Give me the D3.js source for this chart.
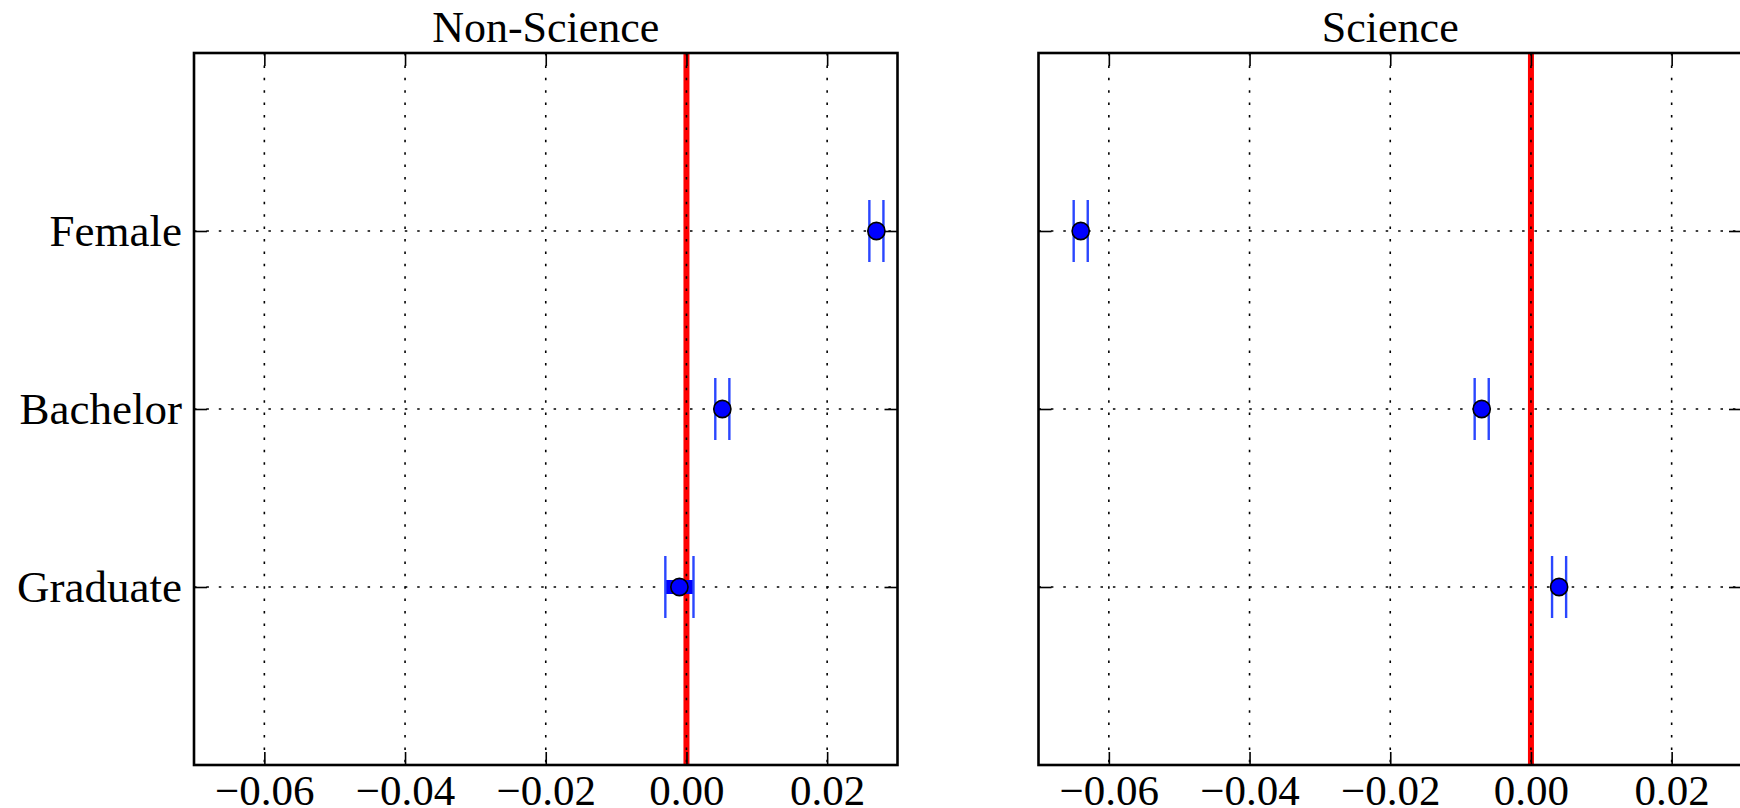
<!DOCTYPE html>
<html>
<head>
<meta charset="utf-8">
<style>
    body { margin: 0; background: #fff; }
    svg text { font-family: "Liberation Serif", "DejaVu Serif", serif; fill: #000; }
</style>
</head>
<body>
<svg width="1740" height="808"></svg>
<script src="https://d3js.org/d3.v7.min.js"></script>
<script>

// chart data
let categories = ["Female", "Bachelor", "Graduate"]
let panelTitles = ["Non-Science", "Science"]
let nonScience = [0.0270, 0.0051, -0.0010]
let nonScienceErr = [0.0010, 0.0010, 0.0020]
let science = [-0.0640, -0.0070, 0.0040]
let scienceErr = [0.0010, 0.0010, 0.0010]
let xTicks = [-0.06, -0.04, -0.02, 0.00, 0.02]
let xDomain = [-0.07, 0.03]
let catPos = [3, 2, 1]   // position of each category on the y axis

let svg = d3.select("svg")
let plotTop = 53, plotBottom = 765
let tickLen = 13

let y = d3.scaleLinear().domain([0, 4]).range([plotBottom, plotTop])

let panels = [
    { title: panelTitles[0], vals: nonScience, errs: nonScienceErr, left: 194, right: 897.5, labels: true },
    { title: panelTitles[1], vals: science, errs: scienceErr, left: 1038.5, right: 1742, labels: false }
]

panels.forEach(p => {
    let x = d3.scaleLinear().domain(xDomain).range([p.left, p.right])
    let g = svg.append("g")

    // red zero line
    g.append("line")
        .attr("x1", x(0)).attr("x2", x(0))
        .attr("y1", plotTop).attr("y2", plotBottom)
        .style("stroke", "#ff0000").style("stroke-width", 6)

    // dotted grid
    g.append("g").selectAll("line")
        .data(xTicks)
        .enter().append("line")
        .attr("x1", d => x(d)).attr("x2", d => x(d))
        .attr("y1", plotTop).attr("y2", plotBottom)
        .style("stroke", "#000").style("stroke-width", 1.6)
        .style("stroke-dasharray", "2.5,9.9")
    g.append("g").selectAll("line")
        .data(catPos)
        .enter().append("line")
        .attr("x1", p.left).attr("x2", p.right)
        .attr("y1", d => y(d)).attr("y2", d => y(d))
        .style("stroke", "#000").style("stroke-width", 1.6)
        .style("stroke-dasharray", "2.5,9.9")

    // axes, ticks pointing inward on all four sides
    let fmt = d3.format(".2f")
    let xb = g.append("g").attr("transform", "translate(0," + plotBottom + ")")
        .call(d3.axisBottom(x).tickValues(xTicks).tickSizeInner(-tickLen).tickSizeOuter(0).tickPadding(10).tickFormat(fmt))
    xb.selectAll("text").style("font-size", "43px").attr("dy", "0.7em")
    g.append("g").attr("transform", "translate(0," + plotTop + ")")
        .call(d3.axisTop(x).tickValues(xTicks).tickSizeInner(-tickLen).tickSizeOuter(0).tickFormat(""))
    let yl = g.append("g").attr("transform", "translate(" + p.left + ",0)")
        .call(d3.axisLeft(y).tickValues(catPos).tickSizeInner(-tickLen).tickSizeOuter(0).tickPadding(12)
            .tickFormat((d, i) => p.labels ? categories[i] : ""))
    yl.selectAll("text").style("font-size", "45px")
    g.append("g").attr("transform", "translate(" + p.right + ",0)")
        .call(d3.axisRight(y).tickValues(catPos).tickSizeInner(-tickLen).tickSizeOuter(0).tickFormat(""))
    g.selectAll(".domain").remove()
    g.selectAll(".tick line").style("stroke", "#000").style("stroke-width", 1.6)

    // frame
    g.append("rect")
        .attr("x", p.left).attr("y", plotTop)
        .attr("width", p.right - p.left).attr("height", plotBottom - plotTop)
        .style("fill", "none").style("stroke", "#000").style("stroke-width", 2.6)

    // title
    g.append("text")
        .attr("x", (p.left + p.right) / 2).attr("y", 42)
        .attr("text-anchor", "middle")
        .style("font-size", "44px")
        .text(p.title)

    // error bars and markers
    let pts = g.append("g").selectAll("g")
        .data(p.vals)
        .enter().append("g")
    pts.append("line")
        .attr("x1", (d, i) => x(d - p.errs[i])).attr("x2", (d, i) => x(d + p.errs[i]))
        .attr("y1", (d, i) => y(catPos[i])).attr("y2", (d, i) => y(catPos[i]))
        .style("stroke", "#0000ff").style("stroke-width", 14)
    pts.append("line")
        .attr("x1", (d, i) => x(d - p.errs[i])).attr("x2", (d, i) => x(d - p.errs[i]))
        .attr("y1", (d, i) => y(catPos[i]) - 31).attr("y2", (d, i) => y(catPos[i]) + 31)
        .style("stroke", "#2a46ff").style("stroke-width", 2.4)
    pts.append("line")
        .attr("x1", (d, i) => x(d + p.errs[i])).attr("x2", (d, i) => x(d + p.errs[i]))
        .attr("y1", (d, i) => y(catPos[i]) - 31).attr("y2", (d, i) => y(catPos[i]) + 31)
        .style("stroke", "#2a46ff").style("stroke-width", 2.4)
    pts.append("circle")
        .attr("cx", d => x(d))
        .attr("cy", (d, i) => y(catPos[i]))
        .attr("r", 8.6)
        .style("fill", "#0000ff").style("stroke", "#000").style("stroke-width", 1.6)
})

</script>
</body>
</html>
